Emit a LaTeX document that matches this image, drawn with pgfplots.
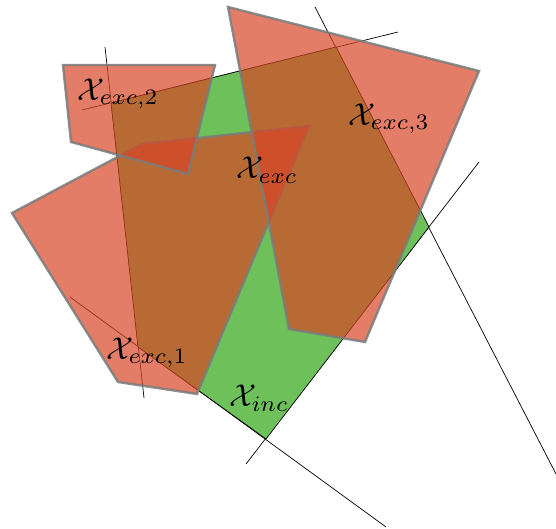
\documentclass[border=0pt]{standalone}
\usepackage{pgfplots}
\pgfplotsset{compat=1.18}

\definecolor{incgreen}{RGB}{110,192,90}
\definecolor{excred}{RGB}{216,70,38}
\definecolor{edgegray}{RGB}{120,125,125}

\begin{document}
\begin{tikzpicture}
\begin{axis}[
    hide axis,
    scale only axis,
    width=556pt, height=529pt,
    xmin=0, xmax=556, ymin=0, ymax=529,
    y dir=reverse,
]

% keep the full canvas in the bounding box
\addplot[draw=none, forget plot] coordinates {(0,0) (556,529)};

% half-space boundaries
\addplot[black, line width=0.7pt] coordinates {(105,47) (144,398)};
\addplot[black, line width=0.7pt] coordinates {(82,110) (398,32)};
\addplot[black, line width=0.7pt] coordinates {(315,7) (556,474)};
\addplot[black, line width=0.7pt] coordinates {(70,297) (386,527)};
\addplot[black, line width=0.7pt] coordinates {(246,464) (479,162)};

% X_inc
\addplot[fill=incgreen, draw=black, line width=0.7pt] coordinates {
    (111,103) (336,47) (429,227) (266,439) (138,347)
} --cycle;

% exclusion sets
\addplot[fill=excred, fill opacity=0.7, draw=edgegray, draw opacity=0.85, line width=2.4pt] coordinates {
    (12,213) (142,144) (309,126) (197,394) (118,382)
} --cycle;
\addplot[fill=excred, fill opacity=0.7, draw=edgegray, draw opacity=0.85, line width=2.4pt] coordinates {
    (63,65) (215,65) (188,174) (71,142)
} --cycle;
\addplot[fill=excred, fill opacity=0.7, draw=edgegray, draw opacity=0.85, line width=2.4pt] coordinates {
    (228,7) (479,71) (365,342) (289,329)
} --cycle;

\node[scale=3.15] at (axis cs:118,94) {$\mathcal{X}_{exc,2}$};
\node[scale=3.15] at (axis cs:389,119) {$\mathcal{X}_{exc,3}$};
\node[scale=3.15] at (axis cs:267,170) {$\mathcal{X}_{exc}$};
\node[scale=3.15] at (axis cs:147,353) {$\mathcal{X}_{exc,1}$};
\node[scale=3.15] at (axis cs:259,398) {$\mathcal{X}_{inc}$};

\end{axis}
\end{tikzpicture}
\end{document}
